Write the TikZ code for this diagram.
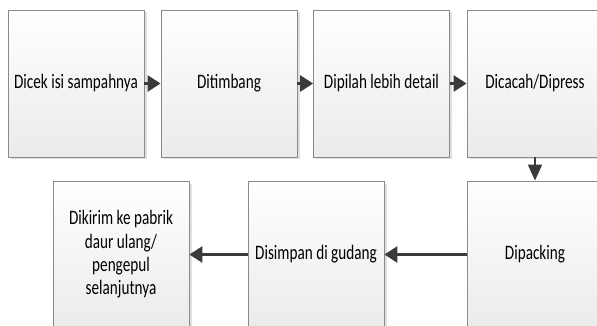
\documentclass[tikz,border=0pt]{standalone}
\usepackage{fontspec}
\setmainfont{Carlito}
\usetikzlibrary{arrows.meta,shadows}
\newcommand{\vs}[1]{\scalebox{1}[1.35]{#1}}
\definecolor{arrowc}{HTML}{3A3A3A}
\definecolor{edgec}{HTML}{8A8A8A}
\tikzset{
  procbox/.style={draw=edgec, line width=0.8pt, top color=white, bottom color=black!8,
    minimum width=136pt, minimum height=147pt, inner sep=0pt, align=center,
    font=\fontsize{15.2}{23.3}\selectfont,
    drop shadow={shadow xshift=2.5pt, shadow yshift=-2.5pt, fill=black!12, opacity=1}},
  flow/.style={draw=arrowc, line width=2.8pt, -{Triangle[width=16pt,length=13pt]}},
  flowthin/.style={draw=arrowc, line width=1.8pt, -{Triangle[width=14pt,length=16pt]}}
}
\begin{document}
\begin{tikzpicture}[x=1pt,y=1pt]
\useasboundingbox (0,0) rectangle (597,-326);
\clip (0,0) rectangle (597,-326);
\node[procbox] (b1) at (76,-83.5) {\vs{Dicek isi sampahnya}};
\node[procbox] (b2) at (229,-83.5) {\vs{Ditimbang}};
\node[procbox] (b3) at (381.5,-83.5) {\vs{Dipilah lebih detail}};
\node[procbox] (b4) at (535,-83.5) {\vs{Dicacah/Dipress}};
\node[procbox] (b5) at (535,-254.5) {\vs{Dipacking}};
\node[procbox] (b6) at (316,-254.5) {\vs{Disimpan di gudang}};
\node[procbox] (b7) at (121,-254.5) {\vs{Dikirim ke pabrik}\\\vs{daur ulang/}\\\vs{pengepul}\\\vs{selanjutnya}};
\draw[flow] (b1.east) -- (b2.west);
\draw[flow] (b2.east) -- (b3.west);
\draw[flow] (b3.east) -- (b4.west);
\draw[flowthin] (b4.south) -- (b5.north);
\draw[flow] (b5.west) -- (b6.east);
\draw[flow] (b6.west) -- (b7.east);
\end{tikzpicture}
\end{document}
